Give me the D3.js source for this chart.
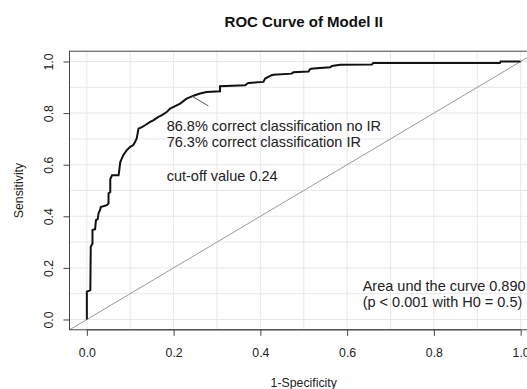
<!DOCTYPE html>
<html>
<head>
<meta charset="utf-8">
<script src="https://cdn.jsdelivr.net/npm/d3@7"></script>
<style>
  body { margin: 0; background: #fff; }
  text { font-family: "Liberation Sans", Arial, sans-serif; }
</style>
</head>
<body>
<div id="roc-container"></div>
<script>
// ROC points (1-specificity, sensitivity)
const fpr = [0.000, 0.000, 0.008, 0.009, 0.013, 0.013, 0.019, 0.021, 0.025, 0.027,
             0.031, 0.032, 0.046, 0.050, 0.050, 0.054, 0.054, 0.058, 0.073, 0.074,
             0.077, 0.084, 0.092, 0.100, 0.107, 0.111, 0.115, 0.119, 0.127, 0.134,
             0.146, 0.153, 0.165, 0.173, 0.184, 0.192, 0.200, 0.215, 0.230, 0.238,
             0.249, 0.261, 0.276, 0.307, 0.307, 0.365, 0.372, 0.407, 0.411, 0.426,
             0.430, 0.472, 0.476, 0.511, 0.515, 0.522, 0.561, 0.565, 0.584, 0.657,
             0.660, 0.952, 0.954, 1.000];
const tpr = [0.000, 0.108, 0.114, 0.282, 0.295, 0.347, 0.350, 0.385, 0.389, 0.412,
             0.427, 0.436, 0.443, 0.450, 0.489, 0.494, 0.544, 0.559, 0.559, 0.568,
             0.610, 0.637, 0.656, 0.669, 0.676, 0.688, 0.702, 0.740, 0.746, 0.753,
             0.766, 0.772, 0.785, 0.792, 0.804, 0.818, 0.824, 0.837, 0.856, 0.862,
             0.869, 0.876, 0.882, 0.885, 0.904, 0.908, 0.917, 0.921, 0.934, 0.947,
             0.949, 0.953, 0.958, 0.961, 0.971, 0.973, 0.978, 0.983, 0.987, 0.988,
             0.994, 0.994, 1.000, 1.000];

const tickValues = [0, 0.2, 0.4, 0.6, 0.8, 1.0];
const gridValues = [0, 0.1, 0.2, 0.3, 0.4, 0.5, 0.6, 0.7, 0.8, 0.9, 1.0];

const cutoffPoint = [0.243, 0.865];   // where the pointer touches the curve
const pointerEnd = [0.280, 0.828];
const cutoffLines = ["86.8% correct classification no IR", "76.3% correct classification IR"];
const cutoffText = "cut-off value 0.24";
const aucLines = ["Area und the curve 0.890", "(p < 0.001 with H0 = 0.5)"];

const W = 527, H = 389;
const box = {left: 69.5, right: 538, top: 51.2, bottom: 329.8};

const svg = d3.select("#roc-container")
  .append("svg")
    .attr("width", W)
    .attr("height", H);

svg.append("rect").attr("width", W).attr("height", H).attr("fill", "#fff");

const x = d3.scaleLinear().domain([-0.04, 1.04]).range([box.left, box.right]);
const y = d3.scaleLinear().domain([-0.04, 1.04]).range([box.bottom, box.top]);

svg.append("clipPath").attr("id", "plot-clip")
  .append("rect")
    .attr("x", box.left).attr("y", box.top)
    .attr("width", box.right - box.left).attr("height", box.bottom - box.top);

const plot = svg.append("g").attr("clip-path", "url(#plot-clip)");

// grid
plot.selectAll(".vgrid")
  .data(gridValues)
  .enter().append("line")
    .attr("x1", d => x(d)).attr("x2", d => x(d))
    .attr("y1", box.top).attr("y2", box.bottom)
    .attr("stroke", "#e8e8e8").attr("stroke-width", 1);

plot.selectAll(".hgrid")
  .data(gridValues)
  .enter().append("line")
    .attr("x1", box.left).attr("x2", box.right)
    .attr("y1", d => y(d)).attr("y2", d => y(d))
    .attr("stroke", "#e8e8e8").attr("stroke-width", 1);

// chance line
plot.append("line")
  .attr("x1", x(-0.04)).attr("y1", y(-0.04))
  .attr("x2", x(1.04)).attr("y2", y(1.04))
  .attr("stroke", "#999").attr("stroke-width", 1);

// ROC curve
const rocData = fpr.map((f, i) => ({f: f, s: tpr[i]}));
const line = d3.line()
  .x(d => x(d.f))
  .y(d => y(d.s));

plot.append("path")
  .datum(rocData)
  .attr("fill", "none")
  .attr("stroke", "#111")
  .attr("stroke-width", 2)
  .attr("stroke-linejoin", "miter")
  .attr("d", line);

// pointer to cut-off
plot.append("line")
  .attr("x1", x(cutoffPoint[0])).attr("y1", y(cutoffPoint[1]))
  .attr("x2", x(pointerEnd[0])).attr("y2", y(pointerEnd[1]))
  .attr("stroke", "#555").attr("stroke-width", 1);

// box
svg.append("rect")
  .attr("x", box.left).attr("y", box.top)
  .attr("width", box.right - box.left).attr("height", box.bottom - box.top)
  .attr("fill", "none").attr("stroke", "#444").attr("stroke-width", 1);

// axes
const xAxis = svg.append("g")
  .attr("transform", `translate(0,${box.bottom})`)
  .call(d3.axisBottom(x).tickValues(tickValues).tickSize(6).tickFormat(d3.format(".1f")));
xAxis.select(".domain")
  .attr("d", `M${x(0)},0H${x(1)}`).attr("stroke", "#444");
xAxis.selectAll(".tick line").attr("stroke", "#444");
xAxis.selectAll("text")
  .attr("y", 27).attr("dy", 0)
  .style("font-size", "12.3px").attr("fill", "#222")
  .style("font-family", "'Liberation Sans', Arial, sans-serif");

const yAxis = svg.append("g")
  .attr("transform", `translate(${box.left},0)`)
  .call(d3.axisLeft(y).tickValues(tickValues).tickSize(6).tickFormat(d3.format(".1f")));
yAxis.select(".domain")
  .attr("d", `M0,${y(0)}V${y(1)}`).attr("stroke", "#444");
yAxis.selectAll(".tick line").attr("stroke", "#444");
yAxis.selectAll("text")
  .attr("transform", "rotate(-90)")
  .attr("x", 0).attr("y", -16.5).attr("dy", 0)
  .attr("text-anchor", "middle")
  .style("font-size", "12.3px").attr("fill", "#222")
  .style("font-family", "'Liberation Sans', Arial, sans-serif");

// title and axis labels
svg.append("text")
  .attr("x", (box.left + box.right) / 2)
  .attr("y", 27)
  .attr("text-anchor", "middle")
  .style("font-size", "15px")
  .style("font-weight", "bold")
  .attr("fill", "#111")
  .text("ROC Curve of Model II");

svg.append("text")
  .attr("x", (box.left + box.right) / 2)
  .attr("y", 386.5)
  .attr("text-anchor", "middle")
  .style("font-size", "12.3px")
  .attr("fill", "#222")
  .text("1-Specificity");

svg.append("text")
  .attr("transform", `translate(23,${(box.top + box.bottom) / 2}) rotate(-90)`)
  .attr("text-anchor", "middle")
  .style("font-size", "12.3px")
  .attr("fill", "#222")
  .text("Sensitivity");

// annotations
const note = svg.append("g")
  .style("font-size", "14.5px")
  .attr("fill", "#222");

cutoffLines.forEach((t, i) => {
  note.append("text")
    .attr("x", 166.7)
    .attr("y", 130.7 + i * 16)
    .text(t);
});

note.append("text")
  .attr("x", 166.7)
  .attr("y", 181)
  .text(cutoffText);

aucLines.forEach((t, i) => {
  note.append("text")
    .attr("x", 362.7)
    .attr("y", 290.7 + i * 16)
    .text(t);
});
</script>
</body>
</html>
